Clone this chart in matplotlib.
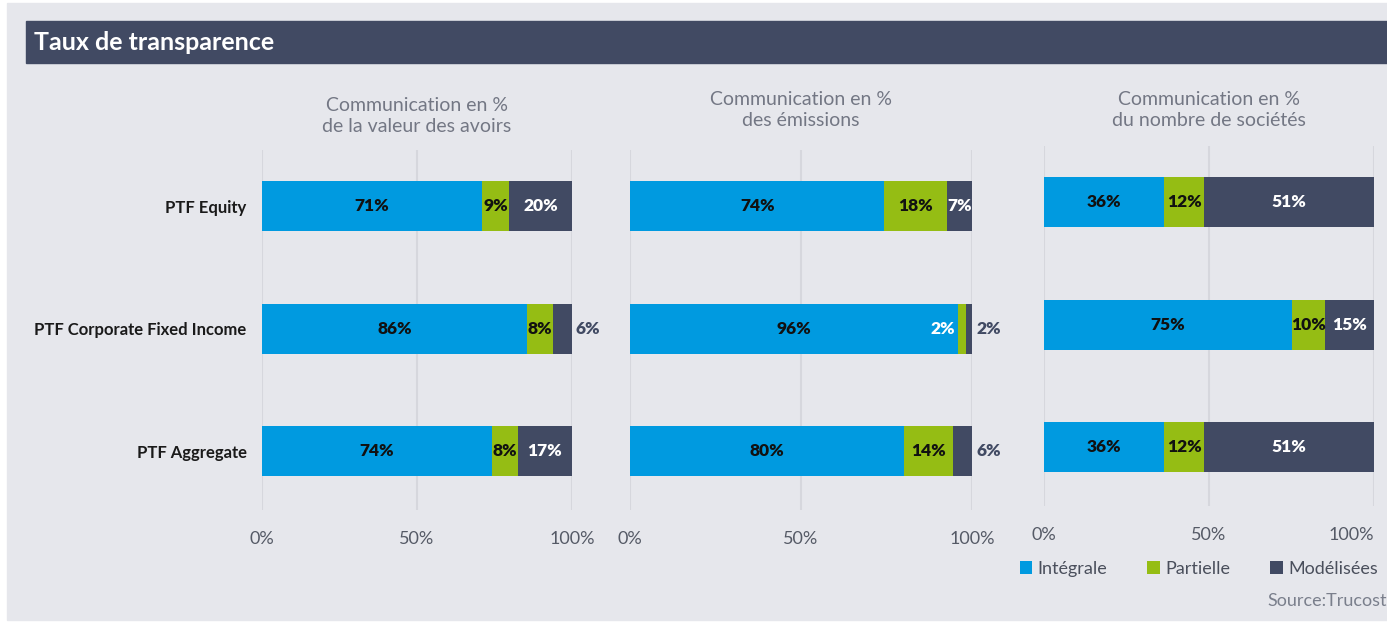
import numpy as np
import matplotlib.pyplot as plt
from matplotlib.patches import Rectangle

# ─────────────────────────────────────────────────────────────
# DATA  (shares; labels show them rounded)
# ─────────────────────────────────────────────────────────────
categories = ["PTF Equity", "PTF Corporate Fixed Income", "PTF Aggregate"]
series_names = ["Intégrale", "Partielle", "Modélisées"]

panel_titles = [
    "Communication en %\nde la valeur des avoirs",
    "Communication en %\ndes émissions",
    "Communication en %\ndu nombre de sociétés",
]

# one array per panel : rows = categories, cols = Intégrale / Partielle / Modélisées
valeur_avoirs = [[71.0, 8.7, 20.3], [85.6, 8.3, 6.1], [74.2, 8.4, 17.4]]
emissions     = [[74.4, 18.4, 7.2], [96.0, 2.3, 1.7], [80.1, 14.3, 5.6]]
nb_societes   = [[36.4, 12.2, 51.4], [75.0, 10.3, 14.7], [36.4, 12.2, 51.4]]
panels = [valeur_avoirs, emissions, nb_societes]

tick_vals   = [0, 50, 100]
tick_labels = ["0%", "50%", "100%"]

# ─────────────────────────────────────────────────────────────
# STYLE
# ─────────────────────────────────────────────────────────────
W, H = 1387, 623
BG      = "#e6e7ec"
BLUE    = "#009ae0"
GREEN   = "#95bd14"
DARK    = "#414a63"
GRID    = "#d6d7dd"
colors  = [BLUE, GREEN, DARK]

plt.rcParams['font.family'] = ['Lato', 'DejaVu Sans']

fig = plt.figure(figsize=(W / 100, H / 100), dpi=100)
fig.patch.set_facecolor("white")


def px(x0, y0, x1, y1):
    """pixel box (top-left origin) -> figure fraction rect"""
    return [x0 / W, 1 - y1 / H, (x1 - x0) / W, (y1 - y0) / H]


# gray card + title bar (behind the axes)
fig.patches.append(Rectangle((7 / W, 1 - 620 / H), (W - 7) / W, 617 / H,
                             transform=fig.transFigure, color=BG, zorder=-5))
fig.patches.append(Rectangle((26 / W, 1 - 63 / H), (W - 26) / W, 42 / H,
                             transform=fig.transFigure, color=DARK, zorder=-4))
fig.text(34 / W, 1 - 43 / H, "Taux de transparence", color="white",
         fontsize=18, fontweight="bold", va="center", ha="left")

# axes boxes in pixels: (x0, y0, x1, y1)
boxes = [(262, 150, 572, 510), (630, 150, 972, 510), (1044, 146, 1374, 506)]
title_y = [116, 110, 110]

y_pos = np.arange(len(categories))
bar_h = 0.41
LBL = dict(fontsize=12.5, fontweight="heavy", va="center", zorder=4)

for p, (data, box) in enumerate(zip(panels, boxes)):
    ax = fig.add_axes(px(*box))
    ax.set_facecolor("none")
    data = np.array(data)
    left = np.zeros(len(categories))
    for s in range(3):
        vals = data[:, s]
        ax.barh(y_pos, vals, left=left, height=bar_h, color=colors[s],
                edgecolor="none", zorder=3, label=series_names[s])
        for i, v in enumerate(vals):
            txt = f"{round(v)}%"
            if s == 2 and v < 6.5:
                # small modelled share: label outside, right of the bar
                ax.text(left[i] + v + 1.2, y_pos[i], txt, color=DARK, ha="left", **LBL)
            elif s == 1 and v < 5:
                # tiny partial share: label inside the blue part
                ax.text(left[i] - 0.8, y_pos[i], txt, color="white", ha="right", **LBL)
            else:
                ax.text(left[i] + v / 2, y_pos[i], txt,
                        color="white" if s == 2 else "#111111", ha="center", **LBL)
        left = left + vals

    ax.set_xlim(0, 100)
    ax.set_ylim(2.48, -0.46)
    ax.set_xticks(tick_vals)
    ax.set_xticklabels(tick_labels, color="#555a66", fontsize=13)
    ax.tick_params(axis="x", length=0, pad=15)
    ax.grid(axis="x", color=GRID, linewidth=1.5, zorder=0)
    ax.set_yticks(y_pos)
    if p == 0:
        ax.set_yticklabels(categories, fontsize=12, fontweight="bold", color="#1a1a1a")
        ax.tick_params(axis="y", length=0, pad=11)
    else:
        ax.set_yticklabels([])
        ax.tick_params(axis="y", length=0)
    for sp in ax.spines.values():
        sp.set_visible(False)

    cx_px = (box[0] + box[2]) / 2
    fig.text(cx_px / W, 1 - title_y[p] / H, panel_titles[p], color="#737784",
             fontsize=14, ha="center", va="center", linespacing=1.35)

    if p == 2:
        handles, labels = ax.get_legend_handles_labels()
        ax.get_xticklabels()[-1].set_ha("right")

leg = fig.legend(handles, labels, loc="center right",
                 bbox_to_anchor=(1394 / W, 1 - 569 / H), ncol=3, frameon=False,
                 handlelength=0.7, handleheight=0.7, handletextpad=0.3,
                 columnspacing=2.2, prop={"size": 13})
for t in leg.get_texts():
    t.set_color("#4a4f5c")

fig.text(1387 / W, 1 - 601 / H, "Source:Trucost", color="#7a7f8c", fontsize=13,
         ha="right", va="center")

fig.savefig("out.png", dpi=100, facecolor=fig.get_facecolor())
